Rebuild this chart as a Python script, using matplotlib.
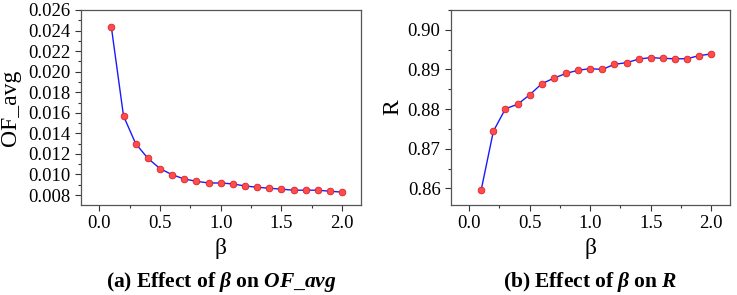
import matplotlib.pyplot as plt
from matplotlib.ticker import MultipleLocator, AutoMinorLocator, FormatStrFormatter

plt.rcParams["font.family"] = ["Liberation Serif", "DejaVu Serif"]
plt.rcParams["mathtext.fontset"] = "custom"
plt.rcParams["mathtext.rm"] = "Liberation Serif"
plt.rcParams["mathtext.it"] = "Liberation Serif:italic"
plt.rcParams["mathtext.bf"] = "Liberation Serif:bold"
plt.rcParams["mathtext.bfit"] = "Liberation Serif:bold:italic"

beta = [0.1, 0.2, 0.3, 0.4, 0.5, 0.6, 0.7, 0.8, 0.9, 1.0,
        1.1, 1.2, 1.3, 1.4, 1.5, 1.6, 1.7, 1.8, 1.9, 2.0]
of_avg = [0.02433, 0.01569, 0.01300, 0.01158, 0.01057, 0.00998, 0.00956,
          0.00934, 0.00917, 0.00917, 0.00908, 0.00888, 0.00876, 0.00866,
          0.00857, 0.00847, 0.00847, 0.00847, 0.00837, 0.00828]
r_vals = [0.8597, 0.8744, 0.8801, 0.8812, 0.8836, 0.8864, 0.8878, 0.8890,
          0.8898, 0.8902, 0.8900, 0.8913, 0.8917, 0.8926, 0.8930, 0.8928,
          0.8927, 0.8927, 0.8935, 0.8939]

W, H = 737, 295
fig = plt.figure(figsize=(W / 100, H / 100), dpi=100)
ax1 = fig.add_axes([81 / W, 1 - 205 / H, 280 / W, 195 / H])
ax2 = fig.add_axes([451 / W, 1 - 205 / H, 279 / W, 195 / H])

panels = [
    (ax1, of_avg, (0.00703, 0.026), 0.002, "%0.3f", "OF_avg", -0.215),
    (ax2, r_vals, (0.8558, 0.905), 0.01, "%0.2f", "R", -0.17),
]
for ax, y, ylim, step, fmt, ylab, ylab_x in panels:
    ax.plot(beta, y, color="#1a1aff", linewidth=1.0, marker="o", markersize=4.8,
            markerfacecolor="#ff4d4d", markeredgecolor="#e02020", markeredgewidth=0.6)
    ax.set_xlim(-0.15, 2.155)
    ax.set_ylim(*ylim)
    ax.xaxis.set_major_locator(MultipleLocator(0.5))
    ax.xaxis.set_minor_locator(AutoMinorLocator(2))
    ax.yaxis.set_major_locator(MultipleLocator(step))
    ax.yaxis.set_minor_locator(AutoMinorLocator(2))
    ax.yaxis.set_major_formatter(FormatStrFormatter(fmt))
    ax.xaxis.set_major_formatter(FormatStrFormatter("%0.1f"))
    ax.tick_params(which="both", direction="out", top=False, right=False,
                   labelsize=13.5, color="#333333")
    ax.tick_params(which="major", length=4, width=0.8)
    ax.tick_params(which="minor", length=2.5, width=0.8)
    for s in ax.spines.values():
        s.set_color("#555555")
        s.set_linewidth(0.9)
    ax.set_xlabel("β", fontsize=17)
    ax.xaxis.set_label_coords(0.5, -0.17)
    ax.set_ylabel(ylab, fontsize=17)
    ax.yaxis.set_label_coords(ylab_x, 0.5)

fig.text((81 + 361) / 2 / W, 1 - 287 / H,
         r"$\mathbf{(a)\ Effect\ of\ }\boldsymbol{\beta}\mathbf{\ on\ }\boldsymbol{OF\_avg}$",
         ha="center", va="baseline", fontsize=15.5)
fig.text((451 + 730) / 2 / W, 1 - 287 / H,
         r"$\mathbf{(b)\ Effect\ of\ }\boldsymbol{\beta}\mathbf{\ on\ }\boldsymbol{R}$",
         ha="center", va="baseline", fontsize=15.5)

fig.savefig("out.png", dpi=100)
